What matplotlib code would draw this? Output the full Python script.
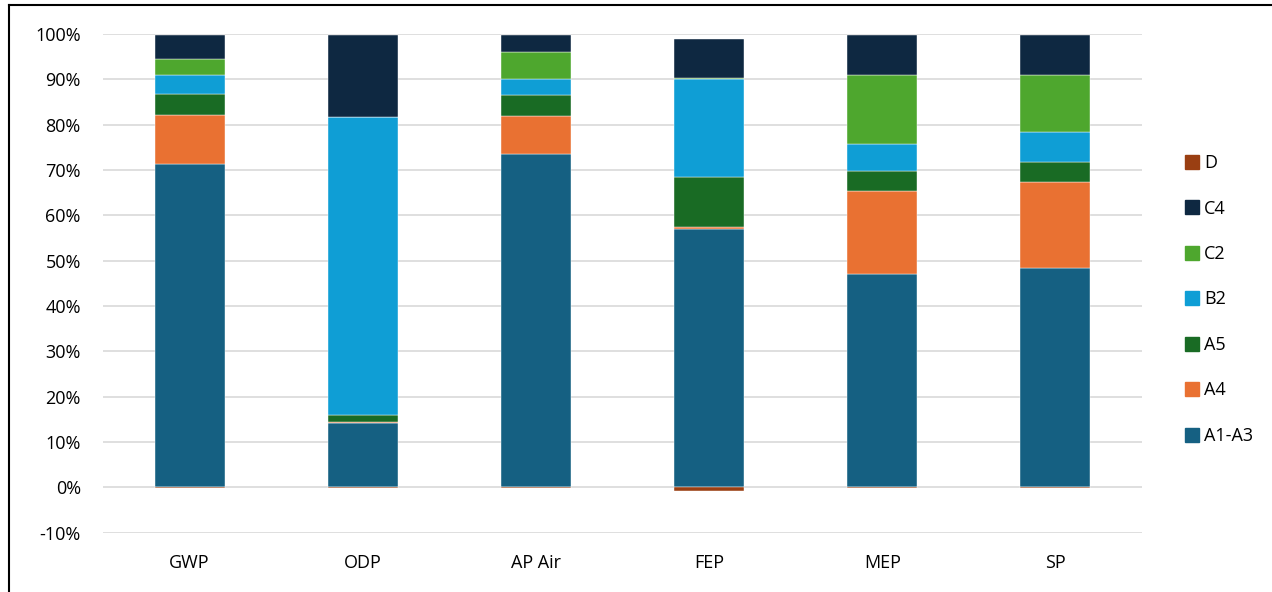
import numpy as np
from matplotlib import pyplot as plt
from matplotlib.lines import Line2D

plt.rcParams["font.family"] = ["Open Sans", "DejaVu Sans"]

categories = ["GWP", "ODP", "AP Air", "FEP", "MEP", "SP"]
stages = ["A1-A3", "A4", "A5", "B2", "C2", "C4", "D"]

a1_a3 = [71.3, 14.3, 73.6, 57.0, 47.0, 48.4]
a4 = [10.8, 0.2, 8.3, 0.5, 18.3, 18.9]
a5 = [4.6, 1.5, 4.6, 11.0, 4.5, 4.4]
b2 = [4.2, 65.7, 3.5, 21.5, 6.0, 6.6]
c2 = [3.5, 0.1, 6.0, 0.2, 15.2, 12.6]
c4 = [5.4, 18.0, 3.8, 8.8, 8.7, 8.8]
d = [-0.1, -0.2, -0.1, -0.7, -0.2, -0.2]

colors = {
    "A1-A3": "#156082",
    "A4": "#E97132",
    "A5": "#196B24",
    "B2": "#0F9ED5",
    "C2": "#4EA72E",
    "C4": "#0E2841",
    "D": "#9A3F12",
}

series = {"A1-A3": a1_a3, "A4": a4, "A5": a5, "B2": b2, "C2": c2, "C4": c4, "D": d}

fig = plt.figure(figsize=(12.72, 5.92), dpi=100)
ax = fig.add_axes([103 / 1272, 1 - 532.7 / 592, (1142 - 103) / 1272, (532.7 - 34) / 592])

x = np.arange(len(categories))
width = 0.405
bottom = np.zeros(len(categories))
for name in stages:
    vals = np.array(series[name])
    if name == "D":
        ax.bar(x, vals, width, bottom=0, color=colors[name], edgecolor="white",
               linewidth=0.3, zorder=3)
    else:
        ax.bar(x, vals, width, bottom=bottom, color=colors[name], edgecolor="white",
               linewidth=0.3, zorder=3)
        bottom += vals

ax.set_xlim(-0.5, len(categories) - 0.5)
ax.set_ylim(-10, 100)
ax.set_yticks(np.arange(-10, 101, 10))
ax.set_yticklabels([f"{v}%" for v in range(-10, 101, 10)])
ax.set_xticks(x)
ax.set_xticklabels(categories)
ax.yaxis.grid(True, color="#D9D9D9", linewidth=1.2, zorder=0)
ax.set_axisbelow(True)
for s in ax.spines.values():
    s.set_visible(False)
ax.tick_params(axis="both", length=0, labelsize=13, colors="black")
ax.tick_params(axis="y", pad=16)
ax.tick_params(axis="x", pad=15)

handles = [Line2D([], [], marker="s", linestyle="none", markersize=10,
                  markerfacecolor=colors[n], markeredgecolor=colors[n])
           for n in reversed(stages)]
fig.legend(handles, list(reversed(stages)), loc="center left",
           bbox_to_anchor=(1169 / 1272, 1 - 299.5 / 592), frameon=False,
           fontsize=13, labelspacing=1.52, handlelength=0.8, handletextpad=0.25)

# figure frame (only top and left visible in the reference crop)
fig.add_artist(Line2D([8.5 / 1272, 1], [1 - 4.5 / 592, 1 - 4.5 / 592],
                      color="black", linewidth=1.5, transform=fig.transFigure))
fig.add_artist(Line2D([8.5 / 1272, 8.5 / 1272], [0, 1 - 4.5 / 592],
                      color="black", linewidth=1.5, transform=fig.transFigure))

fig.savefig("out.png", dpi=100)
